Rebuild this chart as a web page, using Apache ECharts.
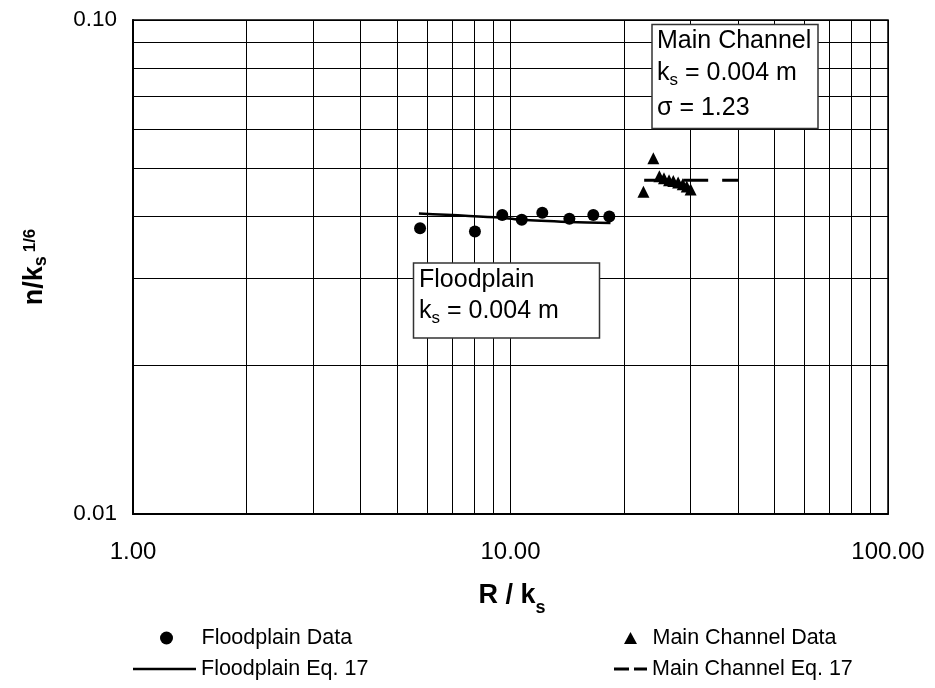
<!DOCTYPE html>
<html>
<head>
<meta charset="utf-8">
<script src="https://cdn.jsdelivr.net/npm/echarts@6/dist/echarts.min.js"></script>
<style>html,body{margin:0;padding:0;background:#fff}#c{width:935px;height:688px}</style>
</head>
<body>
<div id="c"></div>
<script>
// ---- data ----
const floodX = [5.76, 8.05, 9.51, 10.71, 12.14, 14.32, 16.57, 18.27];
const floodY = [0.0379, 0.0373, 0.0403, 0.0394, 0.0407, 0.0396, 0.0403, 0.0400];
const floodEqX = [5.72, 9.5, 10.7, 14.3, 18.4];
const floodEqY = [0.0406, 0.0398, 0.0394, 0.0390, 0.0388];
const mainX = [22.5, 23.9, 24.8, 25.5, 26.3, 27.0, 27.8, 28.6, 29.3, 30.0];
const mainY = [0.0449, 0.0525, 0.0483, 0.0478, 0.0474, 0.0472, 0.0469, 0.0465, 0.0460, 0.0454];
const mainEqX = [22.6, 40.1];
const mainEqY = [0.0474, 0.0474];
const xMinorGrid = [2, 3, 4, 5, 6, 7, 8, 9, 20, 30, 40, 50, 60, 70, 80, 90];
const yMinorGrid = [0.02, 0.03, 0.04, 0.05, 0.06, 0.07, 0.08, 0.09];
const seriesNames = ['Floodplain Data', 'Floodplain Eq. 17', 'Main Channel Data', 'Main Channel Eq. 17'];

const zip = (a, b) => a.map((v, i) => [v, b[i]]);
const FONT = 'Liberation Sans, Arial, sans-serif';

const chart = echarts.init(document.getElementById('c'), null, {renderer: 'canvas'});
const gridLines = [].concat(
  xMinorGrid.map(v => ({xAxis: v})),
  yMinorGrid.map(v => ({yAxis: v}))
);
const legendText = {fontSize: 21.5, color: '#000', fontFamily: FONT};

chart.setOption({
  animation: false,
  backgroundColor: '#fff',
  textStyle: {fontFamily: FONT, color: '#000'},
  grid: {left: 133, right: 47, top: 20, bottom: 174, show: true, borderColor: '#000', borderWidth: 1.5, backgroundColor: 'transparent'},
  xAxis: {
    type: 'log', logBase: 10, min: 1, max: 100,
    axisLine: {lineStyle: {color: '#000', width: 2}},
    axisTick: {show: false},
    splitLine: {show: true, lineStyle: {color: '#000', width: 1}},
    axisLabel: {margin: 26, fontSize: 24, color: '#000', fontFamily: FONT, formatter: v => Number(v).toFixed(2)}
  },
  yAxis: {
    type: 'log', logBase: 10, min: 0.01, max: 0.1,
    axisLine: {lineStyle: {color: '#000', width: 2}},
    axisTick: {show: false},
    splitLine: {show: true, lineStyle: {color: '#000', width: 1}},
    axisLabel: {margin: 16, fontSize: 22.5, color: '#000', fontFamily: FONT, formatter: v => Number(v).toFixed(2)}
  },
  legend: [
    {left: 155, top: 622, itemWidth: 60, itemHeight: 13, textStyle: legendText,
     data: [{name: seriesNames[0], icon: 'circle'}]},
    {left: 128, top: 653, itemWidth: 63, itemHeight: 2.5, textStyle: legendText,
     data: [{name: seriesNames[1], icon: 'rect'}]},
    {left: 619, top: 622, itemWidth: 34, itemHeight: 12, textStyle: legendText,
     data: [{name: seriesNames[2], icon: 'path://M6.5,0L13,12H0Z'}]},
    {left: 609, top: 653, itemWidth: 33, itemHeight: 3, textStyle: legendText,
     data: [{name: seriesNames[3], icon: 'path://M0,0H15V3H0ZM20,0H33V3H20Z'}]}
  ],
  series: [
    {
      name: 'grid', type: 'line', data: [], silent: true, z: 1,
      markLine: {
        silent: true, symbol: ['none', 'none'], animation: false,
        label: {show: false},
        lineStyle: {type: 'solid', color: '#000', width: 1},
        emphasis: {disabled: true},
        data: gridLines
      }
    },
    {
      name: seriesNames[0], type: 'scatter', data: zip(floodX, floodY), symbol: 'circle', symbolSize: 12,
      itemStyle: {color: '#000', opacity: 1}, z: 5
    },
    {
      name: seriesNames[1], type: 'line', data: zip(floodEqX, floodEqY), showSymbol: false, symbol: 'none', smooth: 0.3,
      lineStyle: {color: '#000', width: 2.5}, itemStyle: {color: '#000'}, z: 4
    },
    {
      name: seriesNames[2], type: 'scatter', data: zip(mainX, mainY), symbol: 'triangle', symbolSize: 12,
      itemStyle: {color: '#000', opacity: 1}, z: 5
    },
    {
      name: seriesNames[3], type: 'line', data: zip(mainEqX, mainEqY), showSymbol: false, symbol: 'none',
      lineStyle: {color: '#000', width: 3, type: [25, 14]}, itemStyle: {color: '#000'}, z: 4
    }
  ],
  graphic: [
    // Floodplain box
    {type: 'rect', shape: {x: 413.5, y: 263, width: 186, height: 75}, style: {fill: '#fff', stroke: '#333', lineWidth: 1.5}, z: 10},
    {type: 'text', x: 419, y: 280, z: 11, style: {text: 'Floodplain', font: '25px ' + FONT, fill: '#000', verticalAlign: 'middle'}},
    {type: 'text', x: 419, y: 311, z: 11, style: {
      text: '{a|k}{s|s}{a| = 0.004 m}', verticalAlign: 'middle', fill: '#000',
      rich: {a: {fontSize: 25, fontFamily: FONT, fill: '#000'}, s: {fontSize: 17, fontFamily: FONT, fill: '#000', padding: [14, 0, 0, 0]}}
    }},
    // Main channel box
    {type: 'rect', shape: {x: 652, y: 24.5, width: 166, height: 104}, style: {fill: '#fff', stroke: '#333', lineWidth: 1.5}, z: 10},
    {type: 'text', x: 657, y: 41, z: 11, style: {text: 'Main Channel', font: '25px ' + FONT, fill: '#000', verticalAlign: 'middle'}},
    {type: 'text', x: 657, y: 73, z: 11, style: {
      text: '{a|k}{s|s}{a| = 0.004 m}', verticalAlign: 'middle', fill: '#000',
      rich: {a: {fontSize: 25, fontFamily: FONT, fill: '#000'}, s: {fontSize: 17, fontFamily: FONT, fill: '#000', padding: [14, 0, 0, 0]}}
    }},
    {type: 'text', x: 657, y: 108, z: 11, style: {text: 'σ = 1.23', font: '25px ' + FONT, fill: '#000', verticalAlign: 'middle'}},
    // axis titles
    {type: 'text', x: 512, y: 596, z: 11, style: {
      text: '{a|R / k}{s|s}', align: 'center', verticalAlign: 'middle', fill: '#000',
      rich: {a: {fontSize: 27, fontWeight: 'bold', fontFamily: FONT, fill: '#000'}, s: {fontSize: 18, fontWeight: 'bold', fontFamily: FONT, fill: '#000', padding: [24, 0, 0, 0]}}
    }},
    {type: 'text', x: 35, y: 267, rotation: Math.PI / 2, z: 11, style: {
      text: '{a|n/k}{s|s}{p|1/6}', align: 'center', verticalAlign: 'middle', fill: '#000',
      rich: {a: {fontSize: 27, fontWeight: 'bold', fontFamily: FONT, fill: '#000'},
             s: {fontSize: 18, fontWeight: 'bold', fontFamily: FONT, fill: '#000', padding: [13, 0, 0, 0]},
             p: {fontSize: 17, fontWeight: 'bold', fontFamily: FONT, fill: '#000', padding: [0, 0, 10, 4]}}
    }}
  ]
});
</script>
</body>
</html>
